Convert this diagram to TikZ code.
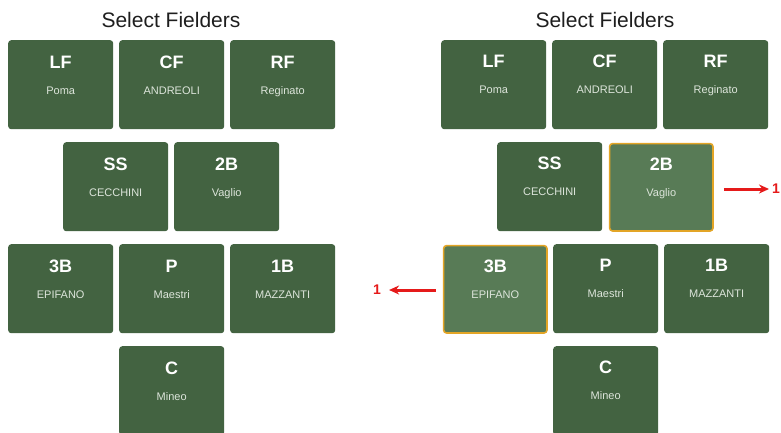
\documentclass[tikz,border=0pt]{standalone}
\usepackage{fontspec}
\setmainfont{Liberation Sans}
\usetikzlibrary{arrows.meta,positioning}
\definecolor{fieldgreen}{HTML}{436341}
\definecolor{pickgreen}{HTML}{587B56}
\definecolor{pickgold}{HTML}{E3A526}
\definecolor{namegray}{HTML}{DDE5DB}
\definecolor{titleink}{HTML}{1E1E1E}
\definecolor{markred}{HTML}{E51A1A}
\tikzset{
  tile/.style={fill=fieldgreen, rounded corners=3pt,
               minimum width=105pt, minimum height=89pt,
               inner sep=0pt, anchor=north west},
  picktile/.style={tile, fill=pickgreen, draw=pickgold, line width=1.6pt,
                   minimum width=103.4pt, minimum height=87.4pt},
  poslabel/.style={font=\fontsize{18}{18}\selectfont\bfseries,
                   text=white, inner sep=0pt, anchor=base},
  namelabel/.style={font=\fontsize{11}{11}\selectfont,
                    text=namegray, inner sep=0pt, anchor=base},
  heading/.style={font=\fontsize{21}{21}\selectfont, text=titleink,
                  inner sep=0pt, anchor=base},
  markarr/.style={draw=markred, line width=3pt, -{Stealth[length=10pt,width=9pt]}},
  marknum/.style={font=\fontsize{14}{14}\selectfont\bfseries,
                  text=markred, inner sep=1pt}
}
\begin{document}
\begin{tikzpicture}[x=1pt,y=-1pt]
  \useasboundingbox (0,0) rectangle (781,432);

  % headings
  \node[heading] (headA) at (171,27) {Select Fielders};
  \node[heading] (headB) at (605,27) {Select Fielders};

  % left panel: nothing picked
  \foreach \pos/\who/\x/\y in {LF/Poma/8/40, CF/ANDREOLI/119/40, RF/Reginato/230/40,
      SS/CECCHINI/63/142, 2B/Vaglio/174/142,
      3B/EPIFANO/8/244, P/Maestri/119/244, 1B/MAZZANTI/230/244,
      C/Mineo/119/346} {
    \node[tile] (t\pos A) at (\x,\y) {};
    \node[poslabel] at ([yshift=-28.5pt]t\pos A.north) {\pos};
    \node[namelabel] at ([yshift=-54pt]t\pos A.north) {\who};
  }

  % right panel: 2B and 3B picked
  \foreach \pos/\who/\x/\y/\kind in {LF/Poma/441/40/tile, CF/ANDREOLI/552/40/tile,
      RF/Reginato/663/40/tile,
      SS/CECCHINI/497/142/tile, 2B/Vaglio/608.8/142.8/picktile,
      3B/EPIFANO/442.8/244.8/picktile, P/Maestri/553/244/tile, 1B/MAZZANTI/664/244/tile,
      C/Mineo/553/346/tile} {
    \node[\kind] (t\pos B) at (\x,\y) {};
    \node[poslabel] at ([yshift=-27.7pt]t\pos B.north) {\pos};
    \node[namelabel] at ([yshift=-53.2pt]t\pos B.north) {\who};
  }

  % marks
  \node[marknum, anchor=west] (oneR) at (771,189) {1};
  \node[marknum] (oneL) at (377,290) {1};
  \draw[markarr, shorten >=2pt] ([xshift=10pt]t2BB.east |- oneR.west) -- (oneR.west);
  \draw[markarr, shorten >=7pt] ([xshift=-7pt]t3BB.west |- oneL.east) -- (oneL.east);
\end{tikzpicture}
\end{document}
